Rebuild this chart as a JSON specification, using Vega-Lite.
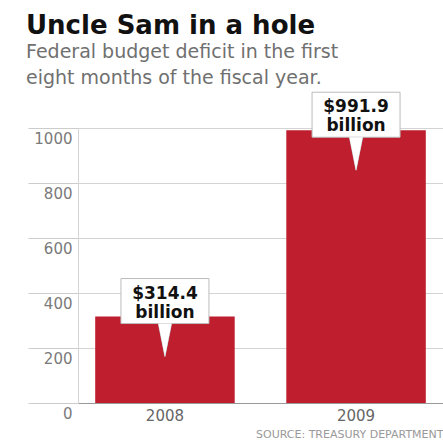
{
  "$schema": "https://vega.github.io/schema/vega-lite/v6.json",
  "width": 365,
  "height": 275,
  "autosize": {"type": "none"},
  "padding": {"left": 78, "top": 128, "right": 0, "bottom": 38},
  "background": "white",
  "config": {"view": {"stroke": null}, "font": "DejaVu Sans"},
  "title": {
    "text": "Uncle Sam in a hole",
    "subtitle": ["Federal budget deficit in the first", "eight months of the fiscal year."],
    "anchor": "start",
    "frame": "group",
    "dx": -52,
    "offset": 4,
    "font": "DejaVu Sans",
    "fontSize": 26,
    "fontWeight": "bold",
    "color": "#111111",
    "subtitleFont": "DejaVu Sans",
    "subtitleFontSize": 19,
    "subtitleColor": "#707070",
    "subtitleLineHeight": 26,
    "subtitlePadding": 4
  },
  "data": {
    "values": [
      {"year": "2008", "value": 314.4, "label": "$314.4 billion"},
      {"year": "2009", "value": 991.9, "label": "$991.9 billion"}
    ]
  },
  "encoding": {
    "x": {
      "field": "year",
      "type": "nominal",
      "scale": {"paddingInner": 0.27, "paddingOuter": 0.09},
      "axis": {
        "title": "SOURCE: TREASURY DEPARTMENT",
        "labelAngle": 0,
        "ticks": false,
        "domainColor": "#999999",
        "labelPadding": 5,
        "labelFont": "DejaVu Sans",
        "labelFontSize": 15,
        "labelColor": "#666666",
        "titleFont": "DejaVu Sans",
        "titleFontSize": 11,
        "titleFontWeight": "normal",
        "titleColor": "#999999",
        "titleAnchor": "end",
        "titleBaseline": "alphabetic",
        "titleY": 34
      }
    },
    "y": {
      "field": "value",
      "type": "quantitative",
      "scale": {"domain": [0, 1000]},
      "axis": {
        "title": null,
        "values": [0, 200, 400, 600, 800, 1000],
        "format": "d",
        "grid": true,
        "gridColor": {"condition": {"test": "datum.value === 0", "value": "#999999"}, "value": "#d4d4d4"},
        "ticks": true,
        "tickColor": "#cccccc",
        "tickWidth": 1,
        "tickSize": 50,
        "domainColor": "#d4d4d4",
        "labelPadding": -44,
        "labelBaseline": "top",
        "labelOffset": 3,
        "labelFont": "DejaVu Sans",
        "labelFontSize": 15,
        "labelColor": "#7a7a7a"
      }
    }
  },
  "layer": [
    {"mark": {"type": "bar", "color": "#be1e2d"}},
    {
      "mark": {"type": "point", "shape": "M -0.4 -1 L 0.4 -1 L 0 1 Z", "size": 1089, "yOffset": 23.5, "filled": true, "fill": "white", "stroke": "#bbbbbb", "strokeWidth": 1, "opacity": 1}
    },
    {
      "mark": {"type": "bar", "width": 88, "yOffset": -38, "y2Offset": 7, "fill": "white", "stroke": "#bbbbbb", "strokeWidth": 1},
      "encoding": {"y2": {"field": "value"}}
    },
    {
      "mark": {"type": "point", "shape": "M -0.4 -1 L 0.4 -1 L 0 1 Z", "size": 1089, "yOffset": 23.5, "filled": true, "fill": "white", "strokeWidth": 0, "opacity": 1}
    },
    {
      "mark": {"type": "text", "dy": -18, "baseline": "alphabetic", "lineBreak": " ", "lineHeight": 19, "font": "DejaVu Sans", "fontSize": 17, "fontWeight": "bold", "color": "#111111"},
      "encoding": {"text": {"field": "label"}}
    }
  ]
}
